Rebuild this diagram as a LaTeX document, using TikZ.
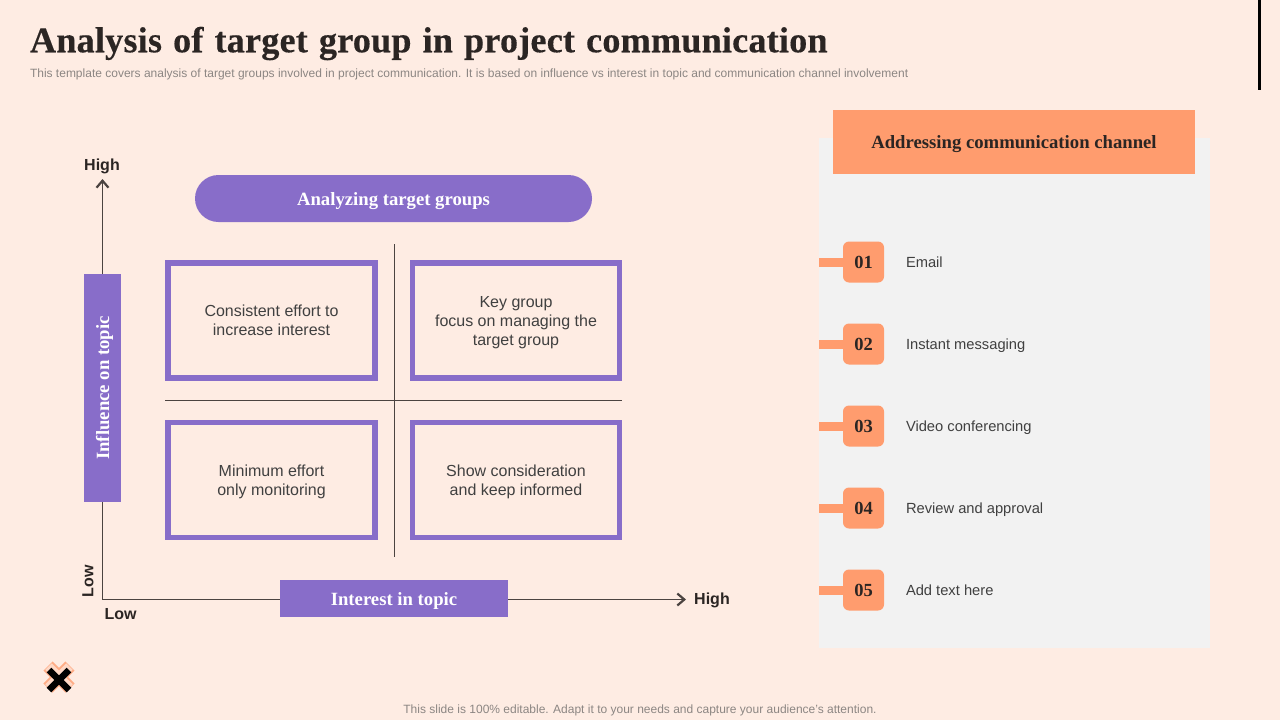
\documentclass[tikz,border=0pt]{standalone}
\usepackage{fontspec}
\setmainfont{Liberation Serif}
\setsansfont{Liberation Sans}
\newfontfamily\titlefont[WordSpace=1.2,LetterSpace=0.5,BoldFeatures={FakeBold=0.3}]{Liberation Serif}
\usetikzlibrary{arrows.meta}
\definecolor{pagebg}{HTML}{FEECE3}
\definecolor{panelgrey}{HTML}{F2F2F2}
\definecolor{peach}{HTML}{FF9C6E}
\definecolor{violet}{HTML}{886DC9}
\definecolor{inkdark}{HTML}{2B2523}
\definecolor{bodytext}{HTML}{404040}
\definecolor{notegrey}{HTML}{8C8683}
\tikzset{
  every node/.style={inner sep=0pt, outer sep=0pt},
  fillbar/.style={fill=violet, text=white, font=\fontsize{18.7}{20}\selectfont\bfseries, align=center,
    text height=14pt, text depth=1pt},
  quadbox/.style={draw=violet, line width=5.5pt, minimum width=207pt, minimum height=115pt,
    font=\sffamily\fontsize{16}{19}\selectfont, text=bodytext, align=center, text depth=0pt},
  axislabel/.style={font=\sffamily\bfseries\fontsize{16}{19}\selectfont, text=inkdark},
  axisline/.style={draw=inkdark!85!pagebg, line width=1pt},
  numbox/.style={fill=peach, rounded corners=6pt, minimum width=41pt, minimum height=41pt,
    text=inkdark, font=\fontsize{18.5}{20}\selectfont\bfseries, text height=12pt, text depth=0pt},
  channeltext/.style={anchor=west, font=\sffamily\fontsize{14.7}{17}\selectfont, text=bodytext,
    text height=11pt, text depth=3pt},
  tabbar/.style={fill=peach, minimum width=24pt, minimum height=9pt, anchor=west},
  axistip/.style={-{Straight Barb[length=7pt,width=12pt,line width=2.2pt]}}
}
\begin{document}
\begin{tikzpicture}[x=1pt,y=-1pt]
  \useasboundingbox (0,0) rectangle (1280,720);
  \fill[pagebg] (0,0) rectangle (1280,720);
  \fill[black] (1258,0) rectangle (1261,90);
  % heading
  \node[anchor=west, font=\titlefont\bfseries\fontsize{36.2}{40}\selectfont, text=inkdark] (title) at (30,43.5)
    {Analysis of target group in project communication};
  \node[anchor=west, font=\sffamily\fontsize{12}{13}\selectfont, text=notegrey] (subtitle) at (30,74)
    {This template covers analysis of target groups involved in project communication. It is based on influence vs interest in topic and communication channel involvement};
  % channel panel
  \fill[panelgrey] (819,138) rectangle (1210,648);
  \node[fill=peach, minimum width=362pt, minimum height=64pt, text=inkdark, text height=14pt, text depth=1pt,
    font=\fontsize{18.7}{20}\selectfont\bfseries] (channelhead) at (1014,142) {Addressing communication channel};
  \foreach \n/\y/\t in {01/262/Email, 02/344/Instant messaging, 03/426/Video conferencing,
      04/508/Review and approval, 05/590/Add text here} {
    \node[tabbar] (tab\n) at (819,\y) {};
    \node[numbox] (num\n) at (863.5,\y) {\n};
    \node[channeltext] (chan\n) at (906,\y+1) {\t};
  }
  % axes
  \coordinate (origin) at (102.5,599.5);
  \node[fillbar, minimum width=228pt, minimum height=37pt, rotate=90] (influence) at (102.5,388) {Influence on topic};
  \node[fillbar, minimum width=228pt, minimum height=37pt] (interest) at (394,598.5) {Interest in topic};
  \node[axislabel] (hightop) at (102,166.5) {High};
  \node[axislabel] (highright) at (712,600.5) {High};
  \node[axislabel] (lowx) at (120.5,614.5) {Low};
  \node[axislabel, rotate=90] (lowy) at (88,581) {Low};
  \coordinate (ytip) at (102.5,179);
  \coordinate (xtip) at (686,599.5);
  \draw[axisline, axistip] (influence.east) -- (ytip);
  \draw[axisline] (influence.west) -- (origin) -- (interest.west |- origin);
  \draw[axisline, axistip] (interest.east |- xtip) -- (xtip);
  % matrix
  \node[fillbar, rounded corners=23.5pt, minimum width=397pt, minimum height=47pt] (groups) at (393.5,198.5) {Analyzing target groups};
  \node[quadbox] (q1) at (271.5,320.5) {Consistent effort to\\increase interest};
  \node[quadbox] (q2) at (516,320.5) {Key group\\focus on managing the\\target group};
  \node[quadbox] (q3) at (271.5,480) {Minimum effort\\only monitoring};
  \node[quadbox] (q4) at (516,480) {Show consideration\\and keep informed};
  \coordinate (vtop) at (394.5,244);
  \coordinate (vbot) at (394.5,557);
  \coordinate (hleft) at (165,400.5);
  \coordinate (hright) at (622,400.5);
  \draw[axisline] (vtop) -- (vbot);
  \draw[axisline] (hleft) -- (hright);
  % cross icon
  \draw[peach!80!pagebg, line width=13pt] (48,666) -- (70,688) (70,666) -- (48,688);
  \draw[peach!25!pagebg, line width=9pt] (48.5,666.5) -- (69.5,687.5) (69.5,666.5) -- (48.5,687.5);
  \draw[black, line width=6.5pt] (49,670) -- (69,690) (69,670) -- (49,690);
  % footer
  \node[font=\sffamily\fontsize{12}{14}\selectfont, text=notegrey] (footer) at (640,710)
    {This slide is 100\% editable. Adapt it to your needs and capture your audience's attention.};
\end{tikzpicture}
\end{document}
